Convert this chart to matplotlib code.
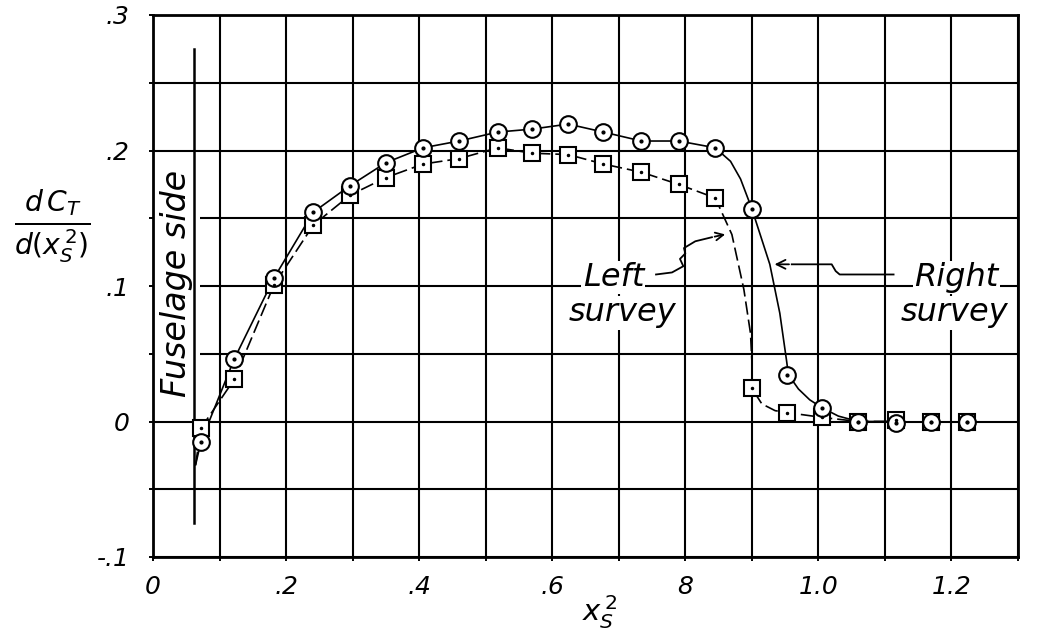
import numpy as np
import matplotlib
matplotlib.use("Agg")
import matplotlib.pyplot as plt
from matplotlib.ticker import MultipleLocator

# --- data ---
# stations (x_s^2) where the survey points sit
stations = [0.072, 0.122, 0.182, 0.241, 0.296, 0.350, 0.406, 0.460, 0.518, 0.570, 0.624,
            0.677, 0.734, 0.790, 0.845, 0.900, 0.953, 1.006, 1.060, 1.117, 1.170, 1.224]
# right survey (circles)
right_pts = [-0.015, 0.046, 0.106, 0.1545, 0.174, 0.191, 0.202, 0.207, 0.2136, 0.2158, 0.2195,
             0.2136, 0.207, 0.207, 0.202, 0.157, 0.0345, 0.010, 0.0, -0.001, 0.0, 0.0]
# left survey (squares)
left_pts = [-0.005, 0.031, 0.101, 0.145, 0.167, 0.180, 0.190, 0.194, 0.202, 0.198, 0.197,
            0.190, 0.184, 0.175, 0.165, 0.0245, 0.0066, 0.003, 0.0, 0.001, 0.0, 0.0]

# faired curves as drawn
right_curve_x = [0.064, 0.072, 0.122, 0.182, 0.241, 0.296, 0.350, 0.406, 0.460, 0.518, 0.570,
                 0.624, 0.677, 0.734, 0.790, 0.845, 0.868, 0.883, 0.900, 0.927, 0.942, 0.952,
                 0.955, 0.970, 0.987, 1.006, 1.030, 1.060, 1.117]
right_curve_y = [-0.032, -0.015, 0.046, 0.106, 0.1545, 0.174, 0.191, 0.202, 0.207, 0.2136, 0.2158,
                 0.2195, 0.2136, 0.207, 0.207, 0.202, 0.192, 0.179, 0.157, 0.116, 0.080, 0.0455,
                 0.0345, 0.024, 0.016, 0.010, 0.004, 0.0, 0.0]
left_curve_x = [0.064, 0.072, 0.122, 0.182, 0.241, 0.296, 0.350, 0.406, 0.460, 0.518, 0.570,
                0.624, 0.677, 0.734, 0.790, 0.845, 0.870, 0.888, 0.898, 0.900, 0.900, 0.915,
                0.935, 0.953, 1.006, 1.060, 1.117]
left_curve_y = [-0.032, -0.005, 0.031, 0.101, 0.145, 0.167, 0.180, 0.190, 0.194, 0.202, 0.198,
                0.197, 0.190, 0.184, 0.175, 0.165, 0.138, 0.0975, 0.065, 0.045, 0.0245, 0.013,
                0.008, 0.0066, 0.003, 0.0, 0.0]

fuselage_x = 0.062
fuselage_y = [-0.075, 0.275]

# leader lines for the labels
left_leader_x = [0.756, 0.780, 0.797, 0.792, 0.800, 0.798, 0.815, 0.840]
left_leader_y = [0.1085, 0.110, 0.1146, 0.120, 0.124, 0.128, 0.133, 0.136]
left_tip = (0.864, 0.1385)
right_leader_x = [1.113, 1.032, 1.026, 1.020, 0.960]
right_leader_y = [0.1085, 0.1085, 0.111, 0.116, 0.116]
right_tip = (0.930, 0.116)

xtick_pos = [0, 0.2, 0.4, 0.6, 0.8, 1.0, 1.2]
xtick_lab = ["0", ".2", ".4", ".6", "8", "1.0", "1.2"]
ytick_pos = [-0.1, 0, 0.1, 0.2, 0.3]
ytick_lab = ["-.1", "0", ".1", ".2", ".3"]

plt.rcParams['font.family'] = ['DejaVu Sans']
plt.rcParams['mathtext.fontset'] = 'dejavusans'

fig = plt.figure(figsize=(10.46, 6.37), dpi=100)
ax = fig.add_axes([153/1046, 1 - 557/637, (1018-153)/1046, (557-15)/637])

ax.set_xlim(0, 1.3)
ax.set_ylim(-0.1, 0.3)
ax.xaxis.set_minor_locator(MultipleLocator(0.1))
ax.yaxis.set_minor_locator(MultipleLocator(0.05))
ax.set_xticks(xtick_pos)
ax.set_xticklabels(xtick_lab, fontsize=18, fontstyle='italic')
ax.set_yticks(ytick_pos)
ax.set_yticklabels(ytick_lab, fontsize=18, fontstyle='italic')
ax.tick_params(which='both', length=3, width=1.4, color='black')
ax.tick_params(axis='x', pad=10)
ax.tick_params(axis='y', pad=14)
ax.grid(which='both', color='black', linewidth=1.5)
ax.set_axisbelow(True)
for s in ax.spines.values():
    s.set_linewidth(2)
    s.set_zorder(4)

# curves
ax.plot(right_curve_x, right_curve_y, color='black', lw=1.2, zorder=3)
ax.plot(left_curve_x, left_curve_y, color='black', lw=1.2, dashes=(8, 3), zorder=3)

# points
ax.plot(stations, left_pts, ls='none', marker='s', ms=11, mfc='white', mec='black', mew=1.5, zorder=5)
ax.plot(stations, right_pts, ls='none', marker='o', ms=12, mfc='white', mec='black', mew=1.5, zorder=6)
ax.plot(stations, right_pts, ls='none', marker='o', ms=2, color='black', zorder=7)
ax.plot(stations, left_pts, ls='none', marker='o', ms=1.5, color='black', zorder=7)

# fuselage side
ax.plot([fuselage_x, fuselage_x], fuselage_y, color='black', lw=1.8, zorder=3)
ax.text(0.036, 0.102, "Fuselage side", rotation=90, ha='center', va='center',
        fontsize=24, fontstyle='italic', zorder=2,
        bbox=dict(fc='white', ec='none', pad=5))

# labels with leaders
box = dict(fc='white', ec='none', pad=1)
lab = dict(ha='center', va='baseline', fontsize=23, fontstyle='italic', zorder=2, bbox=box)
ax.text(0.692, 0.1, "Left", **lab)
ax.text(0.705, 0.074, "survey", **lab)
ax.text(1.207, 0.1, "Right", **lab)
ax.text(1.205, 0.074, "survey", **lab)

ax.plot(left_leader_x, left_leader_y, color='black', lw=1.3, zorder=3)
ax.annotate("", xy=left_tip, xytext=(left_leader_x[-1], left_leader_y[-1]),
            arrowprops=dict(arrowstyle='->', lw=1.3, color='black', mutation_scale=14), zorder=3)
ax.plot(right_leader_x, right_leader_y, color='black', lw=1.3, zorder=3)
ax.annotate("", xy=right_tip, xytext=(right_leader_x[-1], right_leader_y[-1]),
            arrowprops=dict(arrowstyle='->', lw=1.3, color='black', mutation_scale=16), zorder=3)

# axis labels
fig.text(600/1046, 1 - 612/637, r'$x_S^{\,2}$', ha='center', va='center', fontsize=21)
fig.text(52/1046, 1 - 226/637, r'$\frac{d\,C_T}{d(x_S^{\,2})}$', ha='center', va='center', fontsize=29)

fig.savefig("out.png", dpi=100)
